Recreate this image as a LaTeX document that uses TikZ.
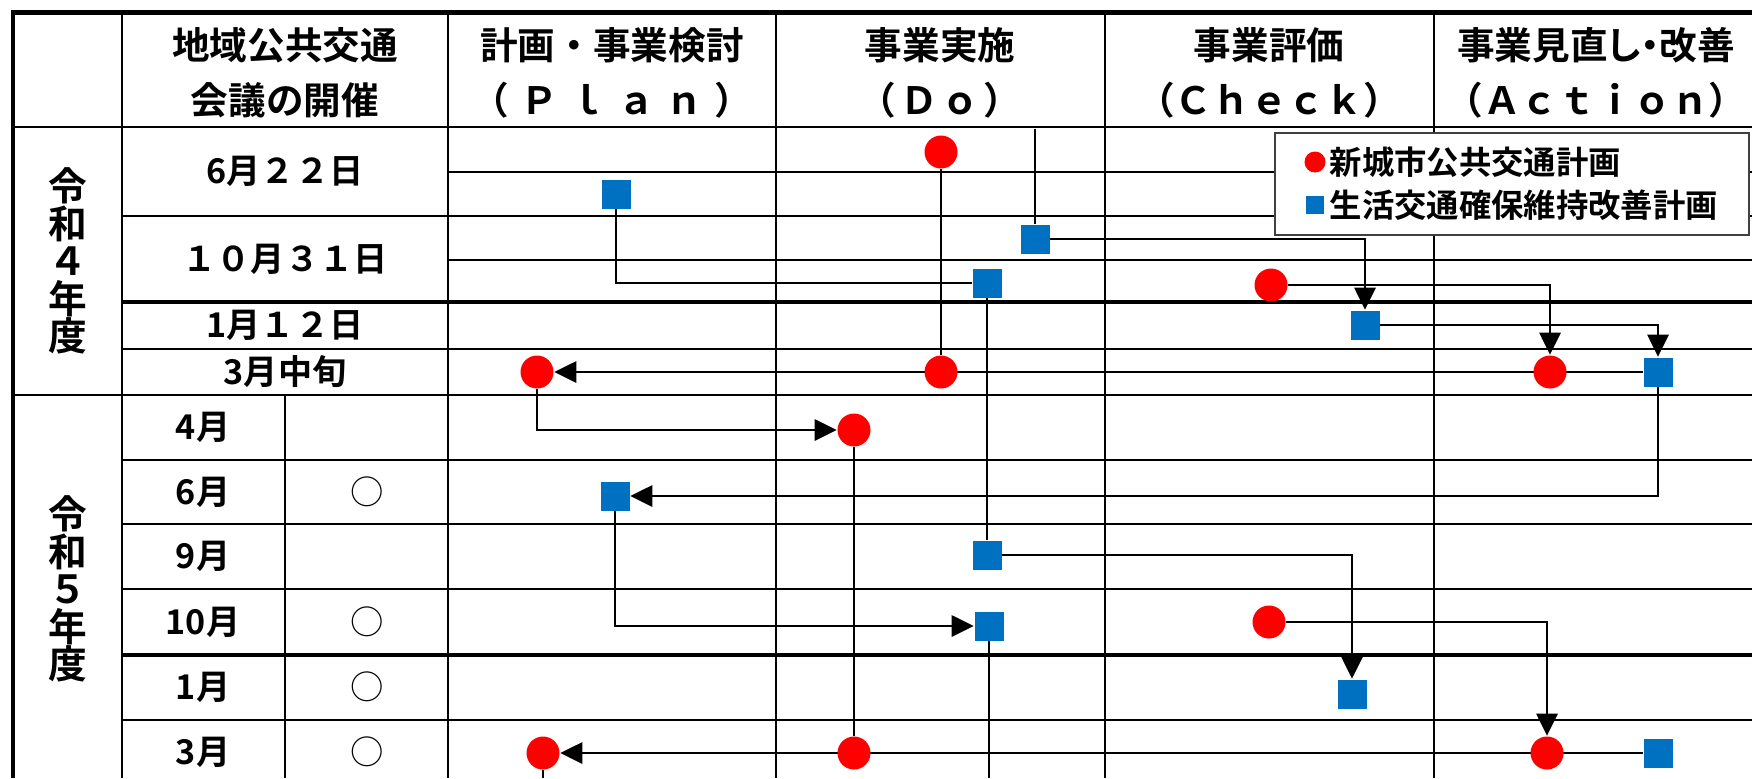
\documentclass[tikz,border=0pt]{standalone}
\usepackage{fontspec}
\setmainfont{Noto Sans CJK JP}[BoldFont={Noto Sans CJK JP Bold}]
\usetikzlibrary{arrows.meta,backgrounds}
\definecolor{planred}{RGB}{255,0,0}
\definecolor{planblue}{RGB}{0,112,192}

\begin{document}
\begin{tikzpicture}[x=0.01cm,y=-0.01cm,
        grid/.style={line width=0.8pt},
        gridv/.style={line width=0.65pt},
        reddot/.style={circle,fill=planred,inner sep=0pt,minimum size=0.33cm},
        bluebox/.style={rectangle,fill=planblue,inner sep=0pt,minimum size=0.29cm},
        link/.style={line width=0.8pt},
        flow/.style={link,-{Triangle[length=6.3pt,width=6pt]}},
        head/.style={font=\bfseries\fontsize{10.7}{15.6}\selectfont,align=center,inner sep=0pt},
        datelbl/.style={font=\bfseries\fontsize{9.7}{11}\selectfont,inner sep=0pt},
        yearlbl/.style={font=\bfseries\fontsize{11}{10.7}\selectfont,align=center,inner sep=0pt},
        meet/.style={font=\fontsize{9.5}{11}\selectfont,inner sep=0pt},
        legendtxt/.style={font=\bfseries\fontsize{9.2}{11}\selectfont,inner sep=0pt,anchor=west}]
        \useasboundingbox (0,0) rectangle (1752,778);
        \begin{scope}[on background layer]
        \foreach \y in {127,395} \draw[grid] (13,\y) -- (1752,\y);
        \foreach \y in {216,349,460,524,589,720} \draw[grid] (122,\y) -- (1752,\y);
        \foreach \y in {302,655} \draw[line width=1.05pt] (122,\y) -- (1752,\y);
        \foreach \y in {172,260} \draw[grid] (448,\y) -- (1752,\y);
        \foreach \x in {122,448,776,1105,1434} \draw[gridv] (\x,13) -- (\x,778);
        \draw[gridv] (285,395) -- (285,778);
        \draw[line width=1.2pt] (13,778) -- (13,12.5) -- (1752,12.5);
        \end{scope}

        \node[head] (hmeet) at (285,73) {地域公共交通\\会議の開催};
        \node[head] (hplan) at (612,73) {計画・事業検討\\\makebox[2.8cm][s]{（\hfill Ｐ\hfill ｌ\hfill ａ\hfill ｎ\hfill ）}};
        \node[head] (hdo) at (940,73) {事業実施\\\makebox[1.62cm][s]{（\hfill Ｄ\hfill ｏ\hfill ）}};
        \node[head] (hcheck) at (1269,73) {事業評価\\（Ｃｈｅｃｋ）};
        \node[head] (haction) at (1596,73) {{\addfontfeatures{RawFeature=+palt}事業見直し・改善}\\（Ａｃｔｉｏｎ）};

        \node[yearlbl] (fy4) at (68,261) {令\\和\\４\\年\\度};
        \node[yearlbl] (fy5) at (68,589) {令\\和\\５\\年\\度};

        \node[datelbl] (d1) at (285,171) {6月２２日};
        \node[datelbl] (d2) at (285,259) {１０月３１日};
        \node[datelbl] (d3) at (285,325) {1月１２日};
        \node[datelbl] (d4) at (285,372) {3月中旬};
        \foreach \m/\y [count=\i] in {4月/427,6月/492,9月/556,10月/622,1月/687,3月/752}
            \node[datelbl] (mon\i) at (203,\y) {\m};
        \foreach \y [count=\i] in {492,622,687,752}
            \node[meet] (kaigi\i) at (367,\y) {○};

        \node[reddot] (r1) at (941,152) {};
        \node[reddot] (r2) at (941,372) {};
        \node[reddot] (r3) at (537,372) {};
        \node[reddot] (r4) at (1271,285) {};
        \node[reddot] (r5) at (1550,372) {};
        \node[reddot] (r6) at (854,430) {};
        \node[reddot] (r7) at (854,753) {};
        \node[reddot] (r8) at (543,753) {};
        \node[reddot] (r9) at (1269,622) {};
        \node[reddot] (r10) at (1547,753) {};

        \node[bluebox] (b1) at (616,194) {};
        \node[bluebox] (b2) at (1035,239) {};
        \node[bluebox] (b3) at (987,283) {};
        \node[bluebox] (b4) at (1365,325) {};
        \node[bluebox] (b5) at (1658,372) {};
        \node[bluebox] (b6) at (615,496) {};
        \node[bluebox] (b7) at (987,555) {};
        \node[bluebox] (b8) at (989,626) {};
        \node[bluebox] (b9) at (1352,694) {};
        \node[bluebox] (b10) at (1658,753) {};

        \node[draw=black!75,line width=0.45pt,fill=white,minimum width=4.74cm,minimum height=1.02cm,inner sep=0pt] (legend) at (1512,184) {};
        \node[reddot,minimum size=0.21cm] (lr) at (1315,162) {};
        \node[legendtxt] (lrt) at (1329,162) {新城市公共交通計画};
        \node[bluebox,minimum size=0.18cm] (lb) at (1315,205) {};
        \node[legendtxt] (lbt) at (1329,205) {生活交通確保維持改善計画};

        \begin{scope}[on background layer]
        \coordinate (b2up) at (1035,129);
        \coordinate (r8dn) at (543,778);
        \coordinate (b8dn) at (989,778);
        \draw[link] (b2up) -- (b2);
        \draw[flow] (b2) -| (b4);
        \draw[link] (r1) -- (r2);
        \draw[link] (b1) |- (b3);
        \draw[link] (b3) -- (b7);
        \draw[flow] (b7) -| (b9);
        \draw[flow] (r4) -| (r5);
        \draw[flow] (b4) -| (b5);
        \draw[flow] (b5) -- (r3);
        \draw[flow] (r3) |- (r6);
        \draw[link] (r6) -- (r7);
        \draw[flow] (b5) |- (b6);
        \draw[flow] (b6) |- (b8);
        \draw[flow] (r9) -| (r10);
        \draw[flow] (b10) -- (r8);
        \draw[link] (r8) -- (r8dn);
        \draw[link] (b8) -- (b8dn);
        \end{scope}
\end{tikzpicture}
\end{document}
